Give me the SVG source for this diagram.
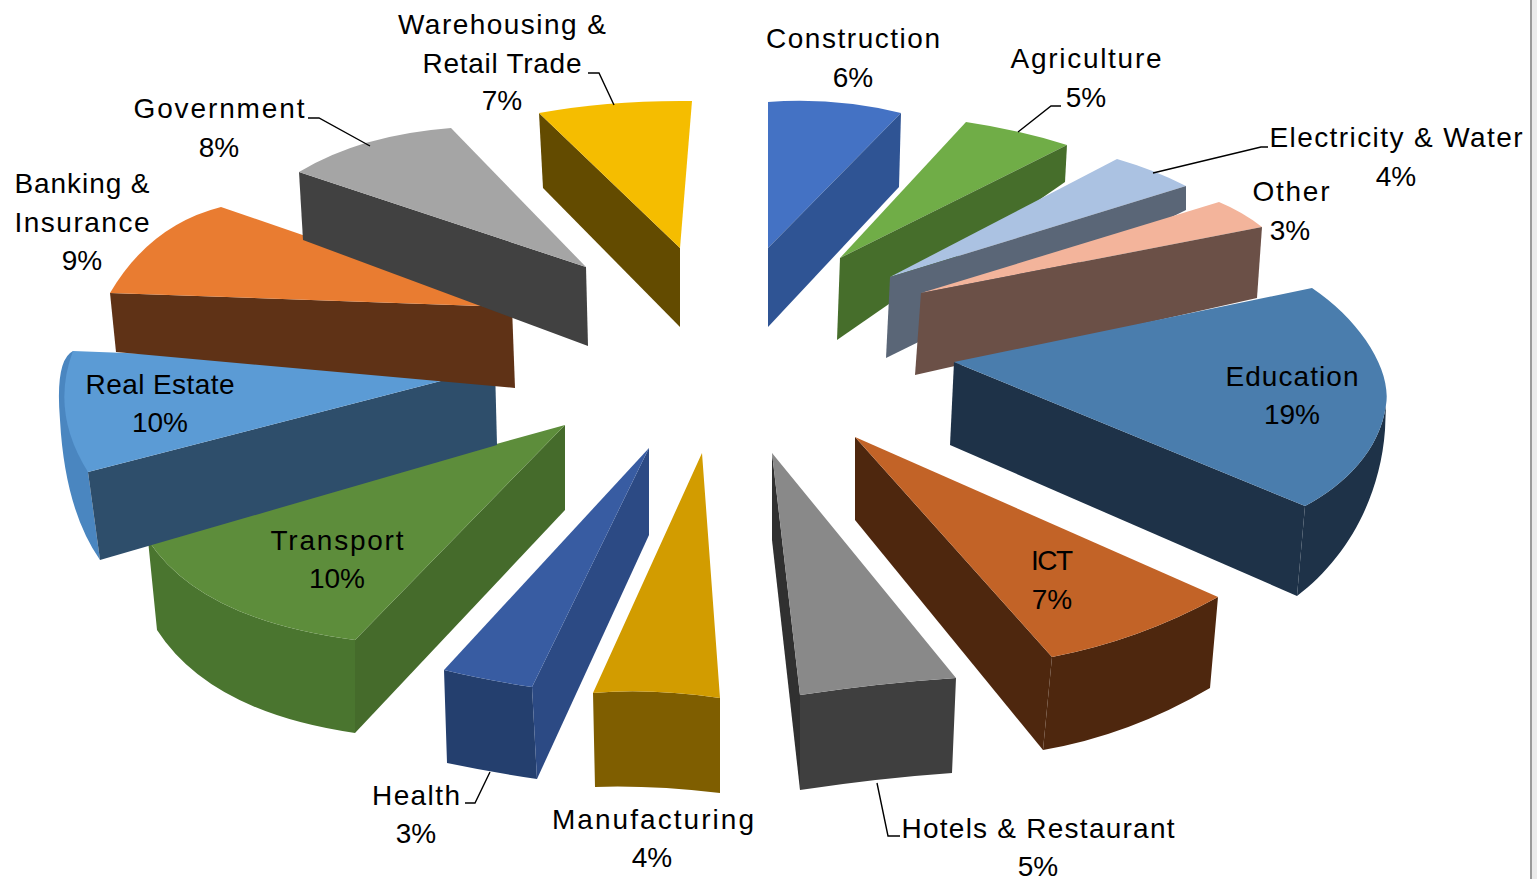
<svg xmlns="http://www.w3.org/2000/svg" width="1537" height="879" viewBox="0 0 1537 879">
<style>
text{font-family:"Liberation Sans",Arial,sans-serif;font-size:28px;fill:#000;text-anchor:middle}
.lead{fill:none;stroke:#000;stroke-width:1.4}
</style>
<rect x="0" y="0" width="1537" height="879" fill="#fff"/>
<rect x="1530" y="0" width="2" height="879" fill="#9a9a9a"/>
<rect x="1532" y="0" width="5" height="879" fill="#ebebeb"/>

<g id="slice-construction">
<path d="M768,102 Q835,97 901,113 L768,248 Z" fill="#4472C4"/>
<path d="M901,113 L899,187 L768,327 L768,248 Z" fill="#2F5494"/>
</g>
<g id="slice-agriculture">
<path d="M966,122 Q1020,130 1067,145 L840,258 Z" fill="#70AD47"/>
<path d="M1067,145 L1065,182 L837,340 L840,258 Z" fill="#466E2B"/>
</g>
<g id="slice-electricity">
<path d="M1117,159 Q1155,170 1186,186 L890,277 Z" fill="#ABC2E2"/>
<path d="M1186,186 L1186,210 L886,358 L890,277 Z" fill="#5A6677"/>
</g>
<g id="slice-other">
<path d="M1219,202 Q1243,212 1262,227 L921,293 Z" fill="#F3B49B"/>
<path d="M1262,227 L1257,298 L915,375 L921,293 Z" fill="#6B5047"/>
</g>
<g id="slice-education">
<path d="M1386,405 C1380,450 1345,485 1305,506 L1297,596 C1345,560 1380,500 1385,430 Z" fill="#1E3248"/>
<path d="M954,362 L1305,506 L1297,596 L950,445 Z" fill="#1E3248"/>
<path d="M954,362 L1312,288 C1360,320 1392,370 1386,405 C1380,450 1345,485 1305,506 Z" fill="#4A7DAD"/>
</g>
<g id="slice-ict">
<path d="M1218,597 L1210,688 Q1130,735 1043,750 L1052,657 Q1140,640 1218,597 Z" fill="#4E270E"/>
<path d="M855,437 L1052,657 L1043,750 L855,520 Z" fill="#4E270E"/>
<path d="M855,437 L1218,597 Q1140,640 1052,657 Z" fill="#C26327"/>
</g>
<g id="slice-hotels">
<path d="M956,678 L952,773 Q880,778 800,790 L800,695 Q880,683 956,678 Z" fill="#3F3F3F"/>
<path d="M772,453 L800,695 L800,790 L772,540 Z" fill="#303030"/>
<path d="M772,453 L956,678 Q880,683 800,695 Z" fill="#898989"/>
</g>
<g id="slice-manufacturing">
<path d="M593,693 Q650,688 720,698 L720,793 Q650,785 595,787 Z" fill="#7F5E00"/>
<path d="M702,453 L720,698 Q650,688 593,693 Z" fill="#D29C00"/>
</g>
<g id="slice-health">
<path d="M444,670 Q485,680 532,687 L537,779 Q490,772 447,763 Z" fill="#243F6E"/>
<path d="M649,448 L649,535 L537,779 L532,687 Z" fill="#2C4A84"/>
<path d="M649,448 L532,687 Q485,680 444,670 Z" fill="#385CA2"/>
</g>
<g id="slice-transport">
<path d="M148,540 Q200,620 355,640 L355,733 Q210,712 157,630 Z" fill="#4A752F"/>
<path d="M565,425 L565,510 L355,733 L355,640 Z" fill="#456B2B"/>
<path d="M565,425 L148,540 Q200,620 355,640 Z" fill="#5D8D3B"/>
</g>
<g id="slice-realestate">
<path d="M73,351 Q55,360 60,420 Q65,510 100,560 L88,472 Z" fill="#4A86C0"/>
<path d="M495,367 L497,445 L100,560 L88,472 Z" fill="#2E4E6B"/>
<path d="M73,351 L495,367 L88,472 Q50,412 73,351 Z" fill="#5B9BD5"/>
</g>
<g id="slice-banking">
<path d="M110,293 L512,307 L515,388 L116,352 Z" fill="#5F3216"/>
<path d="M221,207 Q150,225 110,293 L512,307 Z" fill="#E97C31"/>
</g>
<g id="slice-government">
<path d="M299,172 L586,267 L588,346 L303,240 Z" fill="#414141"/>
<path d="M299,172 Q360,135 451,128 L586,267 Z" fill="#A5A5A5"/>
</g>
<g id="slice-warehousing">
<path d="M539,113 L680,248 L680,327 L543,188 Z" fill="#634B00"/>
<path d="M539,113 Q610,100 692,101 L680,248 Z" fill="#F5BD00"/>
</g>

<g id="connectors">
<path class="lead" d="M614,105 L599,73 L588,73"/>
<path class="lead" d="M370,146 L319,118 L308,118"/>
<path class="lead" d="M1018,132 L1051,106 L1061,106"/>
<path class="lead" d="M1153,173 L1261,147 L1268,147"/>
<path class="lead" d="M490,772 L475,803 L465,803"/>
<path class="lead" d="M877,783 L888,836 L900,836"/>
</g>

<g id="labels">
<text x="853" y="48" textLength="174">Construction</text>
<text x="853" y="87">6%</text>
<text x="1086" y="68" textLength="151">Agriculture</text>
<text x="1086" y="107">5%</text>
<text x="1396" y="147" textLength="253">Electricity &amp; Water</text>
<text x="1396" y="186">4%</text>
<text x="1291" y="201" textLength="77">Other</text>
<text x="1290" y="240">3%</text>
<text x="1292" y="386" textLength="133">Education</text>
<text x="1292" y="424">19%</text>
<text x="1052" y="570" textLength="42">ICT</text>
<text x="1052" y="609">7%</text>
<text x="1038" y="838" textLength="273">Hotels &amp; Restaurant</text>
<text x="1038" y="876">5%</text>
<text x="653" y="829" textLength="202">Manufacturing</text>
<text x="652" y="867">4%</text>
<text x="416" y="805" textLength="88">Health</text>
<text x="416" y="843">3%</text>
<text x="337" y="550" textLength="133">Transport</text>
<text x="337" y="588">10%</text>
<text x="160" y="394" textLength="149">Real Estate</text>
<text x="160" y="432">10%</text>
<text x="82" y="193" textLength="135">Banking &amp;</text>
<text x="82" y="232" textLength="135">Insurance</text>
<text x="82" y="270">9%</text>
<text x="219" y="118" textLength="171">Government</text>
<text x="219" y="157">8%</text>
<text x="502" y="34" textLength="208">Warehousing &amp;</text>
<text x="502" y="73" textLength="159">Retail Trade</text>
<text x="502" y="110">7%</text>
</g>
</svg>
